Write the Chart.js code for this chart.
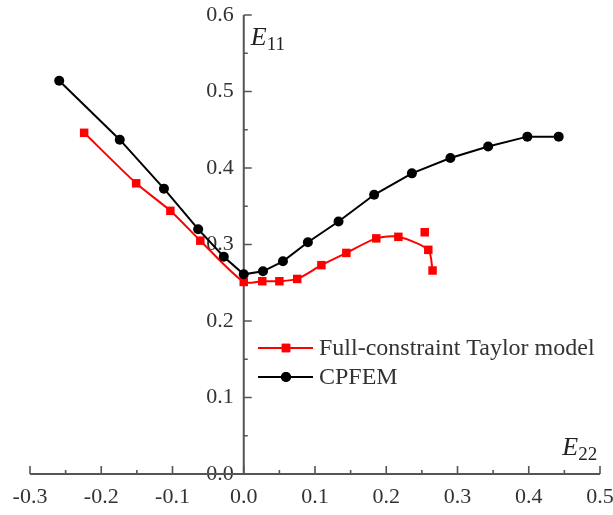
<!DOCTYPE html>
<html>
<head>
<meta charset="utf-8">
<script src="https://cdn.jsdelivr.net/npm/chart.js@4/dist/chart.umd.min.js"></script>
<style>
  html, body { margin: 0; padding: 0; background: #fff; }
  #wrap { width: 613px; height: 515px; }
</style>
</head>
<body>
<div id="wrap"><canvas id="myChart"></canvas></div>
<script>
// E22 / E11 strain values
const taylorX = [-0.224, -0.151, -0.103, -0.061, 0.000, 0.026, 0.050, 0.075, 0.109, 0.144, 0.186, 0.217, 0.259, 0.265];
const taylorY = [0.446, 0.380, 0.344, 0.305, 0.251, 0.252, 0.252, 0.255, 0.273, 0.289, 0.308, 0.310, 0.293, 0.266];
const taylorExtraX = [0.254];
const taylorExtraY = [0.316];
const cpfemX = [-0.259, -0.174, -0.112, -0.064, -0.028, 0.000, 0.027, 0.055, 0.090, 0.133, 0.183, 0.236, 0.290, 0.343, 0.398, 0.442];
const cpfemY = [0.514, 0.437, 0.373, 0.320, 0.284, 0.261, 0.265, 0.278, 0.303, 0.330, 0.365, 0.393, 0.413, 0.428, 0.441, 0.441];
const xTicks = [-0.3, -0.2, -0.1, 0.0, 0.1, 0.2, 0.3, 0.4, 0.5];
const yTicks = [0.0, 0.1, 0.2, 0.3, 0.4, 0.5, 0.6];
const seriesNames = ['Full-constraint Taylor model', 'CPFEM'];

const pts = (xs, ys) => xs.map((x, i) => ({ x: x, y: ys[i] }));
const SERIF = "'Liberation Serif', 'Times New Roman', serif";
const AXIS_COLOR = '#555';

// axis lines through the origin, ticks pointing into the plot, minor ticks halfway
const crossAxes = {
  id: 'crossAxes',
  beforeDatasetsDraw(chart) {
    const { ctx, scales: { x, y } } = chart;
    const x0 = x.getPixelForValue(0);
    const y0 = y.getPixelForValue(0);
    ctx.save();
    ctx.strokeStyle = AXIS_COLOR;
    ctx.lineWidth = 2;
    ctx.beginPath();
    ctx.moveTo(x.getPixelForValue(xTicks[0]), y0);
    ctx.lineTo(x.getPixelForValue(xTicks[xTicks.length - 1]), y0);
    ctx.moveTo(x0, y0);
    ctx.lineTo(x0, y.getPixelForValue(yTicks[yTicks.length - 1]));
    ctx.stroke();
    ctx.lineWidth = 1.6;
    ctx.beginPath();
    xTicks.forEach((v, i) => {
      const px = x.getPixelForValue(v);
      ctx.moveTo(px, y0);
      ctx.lineTo(px, y0 - 8);
      if (i < xTicks.length - 1) {
        const pm = x.getPixelForValue(v + 0.05);
        ctx.moveTo(pm, y0);
        ctx.lineTo(pm, y0 - 4);
      }
    });
    yTicks.forEach((v, i) => {
      const py = y.getPixelForValue(v);
      ctx.moveTo(x0, py);
      ctx.lineTo(x0 + 8, py);
      if (i < yTicks.length - 1) {
        const pm = y.getPixelForValue(v + 0.05);
        ctx.moveTo(x0, pm);
        ctx.lineTo(x0 + 4, pm);
      }
    });
    ctx.stroke();

    // axis titles
    ctx.fillStyle = '#222';
    ctx.textBaseline = 'alphabetic';
    ctx.textAlign = 'left';
    const title = (sub, tx, ty) => {
      ctx.font = 'italic 26px ' + SERIF;
      ctx.fillText('E', tx, ty);
      const w = ctx.measureText('E').width;
      ctx.font = '19px ' + SERIF;
      ctx.fillText(sub, tx + w, ty + 5);
    };
    title('11', x0 + 7, 45);
    title('22', x.getPixelForValue(0.44) + 5, 455);
    ctx.restore();
  }
};

// legend box inside the plot
const innerLegend = {
  id: 'innerLegend',
  afterDatasetsDraw(chart) {
    const { ctx } = chart;
    const rows = [
      { color: '#ff0000', style: 'rect', r: 6, y: 348 },
      { color: '#000000', style: 'circle', r: 5, y: 377 }
    ];
    ctx.save();
    rows.forEach((row, i) => {
      ctx.strokeStyle = row.color;
      ctx.fillStyle = row.color;
      ctx.lineWidth = 2;
      ctx.beginPath();
      ctx.moveTo(258, row.y);
      ctx.lineTo(313, row.y);
      ctx.stroke();
      Chart.helpers.drawPoint(ctx, { pointStyle: row.style, radius: row.r, borderWidth: 0 }, 286, row.y);
      ctx.fill();
      ctx.fillStyle = '#333';
      ctx.font = '24px ' + SERIF;
      ctx.textAlign = 'left';
      ctx.textBaseline = 'middle';
      ctx.fillText(seriesNames[i], 319, row.y + 1);
    });
    ctx.restore();
  }
};

new Chart(document.getElementById('myChart'), {
  type: 'scatter',
  data: {
    datasets: [
      {
        label: seriesNames[0],
        data: pts(taylorX, taylorY),
        showLine: true,
        borderColor: '#ff0000',
        backgroundColor: '#ff0000',
        borderWidth: 2,
        pointStyle: 'rect',
        pointRadius: 6,
        pointBorderWidth: 0,
        tension: 0.25,
        order: 1
      },
      {
        label: seriesNames[0],
        data: pts(taylorExtraX, taylorExtraY),
        showLine: false,
        borderColor: '#ff0000',
        backgroundColor: '#ff0000',
        pointStyle: 'rect',
        pointRadius: 6,
        pointBorderWidth: 0,
        order: 1
      },
      {
        label: seriesNames[1],
        data: pts(cpfemX, cpfemY),
        showLine: true,
        borderColor: '#000000',
        backgroundColor: '#000000',
        borderWidth: 2,
        pointStyle: 'circle',
        pointRadius: 5,
        pointBorderWidth: 0,
        tension: 0,
        order: 0
      }
    ]
  },
  options: {
    responsive: true,
    maintainAspectRatio: false,
    animation: false,
    layout: { padding: { left: 30, right: 13, top: 15, bottom: 0 } },
    plugins: {
      legend: { display: false },
      tooltip: { enabled: false }
    },
    scales: {
      x: {
        type: 'linear',
        position: 'bottom',
        min: -0.3,
        max: 0.5,
        afterBuildTicks(scale) { scale.ticks = xTicks.map(v => ({ value: v })); },
        afterFit(scale) {
          scale.height = 41;
          scale.paddingLeft = 0;
          scale.paddingRight = 0;
        },
        grid: { display: false, drawTicks: false },
        border: { display: false },
        ticks: {
          padding: 10,
          color: '#333',
          font: { family: SERIF, size: 22 },
          callback: v => v.toFixed(1)
        }
      },
      y: {
        type: 'linear',
        // labels sit just left of the E22 = 0 line
        position: { x: -0.014 },
        min: 0,
        max: 0.6,
        afterBuildTicks(scale) { scale.ticks = yTicks.map(v => ({ value: v })); },
        afterFit(scale) {
          scale.paddingTop = 0;
          scale.paddingBottom = 0;
        },
        grid: { display: false, drawTicks: false },
        border: { display: false },
        ticks: {
          color: '#333',
          font: { family: SERIF, size: 22 },
          callback: v => v.toFixed(1)
        }
      }
    }
  },
  plugins: [crossAxes, innerLegend]
});
</script>
</body>
</html>
